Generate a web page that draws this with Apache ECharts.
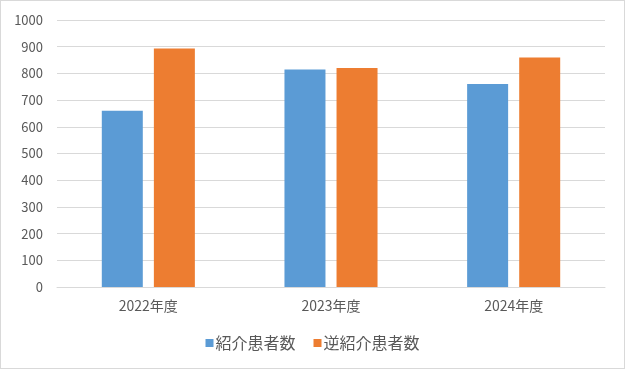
<!DOCTYPE html>
<html>
<head>
<meta charset="utf-8">
<script src="https://cdn.jsdelivr.net/npm/echarts@6/dist/echarts.min.js"></script>
<style>
html,body{margin:0;padding:0;background:#fff;}
#c{width:625px;height:369px;box-sizing:border-box;border:1px solid #D9D9D9;}
</style>
</head>
<body>
<div id="c"></div>
<script>
const categories = ['2022年度', '2023年度', '2024年度'];
const seriesNames = ['紹介患者数', '逆紹介患者数'];
const referral = [660, 815, 760];
const reverseReferral = [893, 820, 860];
const yTicks = [0, 100, 200, 300, 400, 500, 600, 700, 800, 900, 1000];

const font = '"Noto Sans CJK JP", "Noto Sans", sans-serif';
const chart = echarts.init(document.getElementById('c'), null, {renderer: 'canvas'});
chart.setOption({
  animation: false,
  textStyle: {fontFamily: font},
  grid: {left: 56, right: 19, top: 19, bottom: 81, containLabel: false},
  legend: {
    bottom: 12,
    left: 'center',
    itemWidth: 8, itemHeight: 8,
    itemGap: 18,
    icon: 'rect',
    textStyle: {color: '#595959', fontSize: 16, fontFamily: font, padding: [0,0,0,-3]},
    data: seriesNames
  },
  xAxis: {
    type: 'category',
    data: categories,
    axisLine: {lineStyle: {color: '#D9D9D9'}},
    axisTick: {show: false},
    axisLabel: {color: '#595959', fontSize: 14, margin: 12, fontFamily: font}
  },
  yAxis: {
    type: 'value',
    min: yTicks[0], max: yTicks[yTicks.length - 1], interval: 100,
    axisLine: {show: false},
    axisTick: {show: false},
    splitLine: {lineStyle: {color: '#D9D9D9'}},
    axisLabel: {color: '#595959', fontSize: 13, margin: 14, fontFamily: font,
                formatter: v => String(v)}
  },
  series: [
    {name: seriesNames[0], type: 'bar', data: referral, itemStyle: {color: '#5B9BD5'},
     barWidth: 41, barGap: '27%'},
    {name: seriesNames[1], type: 'bar', data: reverseReferral, itemStyle: {color: '#ED7D31'},
     barWidth: 41, barGap: '27%'}
  ]
});
</script>
</body>
</html>
